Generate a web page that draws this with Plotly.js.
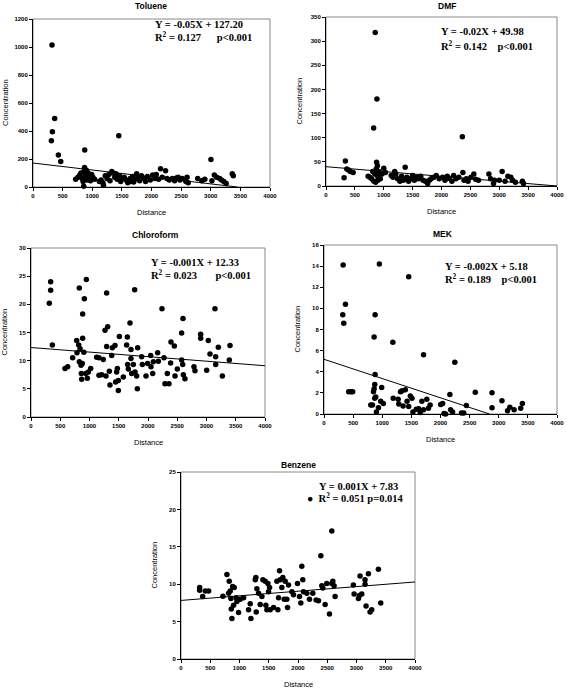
<!DOCTYPE html>
<html><head><meta charset="utf-8">
<script src="https://cdn.plot.ly/plotly-3.0.1.min.js"></script>
<style>html,body{margin:0;padding:0;background:#fff}#chart{width:567px;height:688px}</style>
</head><body><div id="chart"></div>
<script>
// ---------- DATA ----------
const panelNames = ["Toluene", "DMF", "Chloroform", "MEK", "Benzene"];
const xTickVals = [0, 500, 1000, 1500, 2000, 2500, 3000, 3500, 4000];

const tolueneX = [321,366,327,310,428,468,720,760,790,810,830,845,856,860,870,873,880,890,900,910,920,930,950,970,990,1010,1040,1120,1150,1180,1189,1220,1250,1280,1300,1330,1350,1380,1400,1420,1448,1460,1480,1500,1540,1570,1600,1640,1660,1680,1700,1720,1750,1770,1800,1830,1870,1900,1930,1980,2020,2060,2080,2120,2152,2180,2237,2260,2300,2350,2390,2420,2450,2480,2520,2580,2600,2620,2780,2850,2900,3003,3020,3060,3100,3150,3180,3220,3260,3363,3380];
const tolueneY = [1015,490,395,330,228,182,55,70,85,100,60,40,5,110,140,265,90,75,120,50,80,100,65,45,90,70,55,40,50,30,12,80,60,90,45,110,100,70,95,55,366,80,40,60,70,50,30,60,40,75,35,55,95,70,45,80,60,40,75,50,85,60,90,55,130,70,116,60,50,60,45,65,70,50,60,40,70,30,60,45,55,197,45,85,70,60,50,40,25,95,80];
const tolueneFitX = [0, 3450];
const tolueneFitY = [171, 0];

const dmfX = [313,336,360,390,420,470,730,760,790,810,825,830,845,853,860,870,876,882,890,895,900,920,940,970,1000,1030,1130,1160,1190,1210,1240,1280,1310,1340,1371,1400,1430,1460,1500,1530,1560,1600,1640,1680,1720,1760,1790,1820,1870,1910,1960,2020,2060,2100,2130,2180,2210,2250,2300,2361,2370,2390,2430,2460,2510,2560,2590,2640,2820,2850,2900,2919,3000,3050,3100,3150,3200,3230,3280,3400,3420];
const dmfY = [17,52,35,33,30,28,20,18,15,30,120,10,25,318,8,35,49,180,42,20,12,30,15,25,37,28,22,18,30,25,15,10,20,12,39,18,10,15,22,12,18,15,20,12,10,5,12,15,18,22,15,18,12,20,16,10,22,15,18,102,28,12,15,10,18,25,14,12,25,15,5,12,12,30,10,20,18,12,8,10,5];
const dmfFitX = [0, 4000];
const dmfFitY = [40, 0];

const chloroformX = [313,336,336,365,581,627,712,781,786,826,815,838,826,855,860,866,883,883,912,946,877,903,937,963,980,1020,1122,1162,1162,1208,1236,1282,1265,1311,1293,1293,1339,1350,1379,1390,1436,1447,1464,1476,1493,1510,1493,1578,1635,1647,1652,1664,1692,1709,1709,1721,1749,1772,1778,1806,1823,1818,1892,1903,1966,1994,2046,2051,2080,2091,2165,2177,2239,2273,2290,2330,2359,2387,2393,2450,2462,2501,2575,2575,2593,2598,2604,2632,2786,2803,2900,2900,3003,3031,3060,3145,3157,3157,3202,3271,3402,3390];
const chloroformY = [20.2,22.5,24.0,12.8,8.6,8.9,10.5,13.6,11.4,22.9,12.8,12.1,9.8,9.2,7.7,6.7,14.0,18.3,21.0,24.4,9.5,11.5,7.7,6.9,8.0,8.6,10.6,10.5,7.4,7.5,10.2,7.3,15.4,16.0,22.0,12.5,8.1,5.7,10.9,12.3,12.7,6.2,8.0,8.6,4.7,14.3,6.5,7.1,12.8,14.2,9.3,8.5,16.7,12.0,10.4,7.7,9.3,22.6,8.0,7.3,12.3,5.0,10.7,9.3,7.3,9.5,10.9,8.9,7.7,9.8,11.4,9.9,19.2,10.5,5.9,7.7,5.9,9.6,13.3,12.6,7.3,8.5,14.9,10.1,9.3,17.5,7.5,6.8,8.9,8.2,14.7,14.0,8.3,13.6,11.2,19.2,10.7,9.3,12.4,7.3,12.7,10.1];
const chloroformFitX = [0, 4000];
const chloroformFitY = [12.33, 9.1];

const mekX = [328,950,1454,322,339,368,877,860,1182,1709,2246,877,424,464,492,803,832,849,871,860,871,888,900,934,973,990,1018,1188,1273,1284,1313,1341,1358,1397,1426,1454,1482,1510,1527,1584,1624,1652,1680,1709,1765,1793,1822,2003,2037,2060,2088,2161,2173,2207,2360,2399,2444,2597,2885,2885,3055,3151,3191,3264,3377,3406];
const mekY = [14.1,14.2,13.0,9.4,8.6,10.4,9.4,7.3,6.8,5.6,4.9,3.75,2.1,2.1,2.1,0.85,0.85,2.1,2.8,2.4,1.5,1.6,0.2,0.6,1.2,2.5,1.0,1.5,1.4,0.95,2.1,2.2,0.75,2.3,1.2,0.7,1.7,1.5,0.2,0.45,0.5,0.15,1.2,0.4,1.4,0.55,0.85,0.9,1.0,0.05,0.0,1.85,0.4,0.2,0.1,0.1,0.8,2.05,2.0,0.6,1.25,0.3,0.65,0.4,0.55,1.0];
const mekFitX = [0, 2840];
const mekFitY = [5.18, 0];

const benzeneX = [319,319,370,415,472,717,785,825,814,842,853,859,870,882,899,910,944,956,984,1013,1070,1155,1183,1195,1269,1280,1286,1297,1326,1354,1383,1400,1440,1451,1468,1485,1497,1514,1525,1582,1639,1656,1667,1684,1696,1724,1741,1764,1781,1809,1821,1838,1895,1923,1991,2026,2048,2065,2082,2094,2151,2196,2253,2310,2350,2390,2407,2424,2464,2492,2538,2578,2578,2595,2617,2634,2947,2959,3050,3033,3061,3090,3146,3146,3163,3203,3232,3260,3374,3414];
const benzeneY = [9.55,9.2,8.35,9.1,9.1,8.4,11.3,10.4,8.8,9.1,8.1,6.7,5.4,9.7,7.2,9.55,8.2,7.7,6.2,8.0,8.2,6.6,7.4,5.4,10.6,10.9,6.3,9.4,8.8,7.3,8.35,10.6,10.4,7.2,6.6,10.1,9.0,9.55,6.6,6.9,10.4,6.6,8.2,11.8,10.6,9.55,10.9,8.0,10.4,8.0,6.9,9.9,9.0,8.6,10.1,8.35,7.5,12.4,10.6,9.0,8.8,8.0,8.8,7.9,7.8,13.8,9.8,9.5,7.3,10.1,6.0,17.1,10.1,10.4,9.8,8.35,9.9,8.7,8.5,8.1,11.1,8.7,10.6,10.0,7.1,11.4,6.3,6.6,12.0,7.5];
const benzeneFitX = [0, 4000];
const benzeneFitY = [7.83, 10.3];

const eqLines = ["Y = -0.05X + 127.20", "Y = -0.02X + 49.98", "Y = -0.001X + 12.33", "Y = -0.002X + 5.18", "Y = 0.001X + 7.83"];
const r2Lines = ["R<sup>2</sup> = 0.127      p<0.001", "R<sup>2</sup> = 0.142    p<0.001", "R<sup>2</sup> = 0.023       p<0.001", "R<sup>2</sup> = 0.189    p<0.001", "●  R<sup>2</sup> = 0.051 p=0.014"];
const yRanges = [[0,1200],[0,350],[0,30],[0,16],[0,25]];
const yDtick = [200, 50, 5, 2, 5];

// ---------- LAYOUT ----------
const W = 567, H = 688;
// plot boxes in pixels: [left, right, top, bottom]
const boxes = [[33,270,19,187],[326,557,17,186],[31,265,248,417],[324,557,245,414],[181,415,472,659]];
const titlePos = [[151,6],[447,6],[155,235],[443,234],[298,465]];
const eqPos = [[153,25],[439,32],[149,262],[443,266],[317,486]];
const r2Pos = [[153,37],[439,45],[149,274],[443,278],[305,498]];

const xs = [tolueneX, dmfX, chloroformX, mekX, benzeneX];
const ys = [tolueneY, dmfY, chloroformY, mekY, benzeneY];
const fxs = [tolueneFitX, dmfFitX, chloroformFitX, mekFitX, benzeneFitX];
const fys = [tolueneFitY, dmfFitY, chloroformFitY, mekFitY, benzeneFitY];

const traces = [];
const layout = {
  width: W, height: H, margin: {l:0,r:0,t:0,b:0},
  paper_bgcolor: "#fff", plot_bgcolor: "#fff", showlegend: false,
  annotations: [], shapes: []
};
const sans = "Liberation Sans, Arial, sans-serif";
const serif = "Liberation Serif, Times New Roman, serif";

for (let i = 0; i < 5; i++) {
  const n = i === 0 ? "" : String(i + 1);
  const [l, r, t, b] = boxes[i];
  traces.push({x: xs[i], y: ys[i], xaxis: "x"+n, yaxis: "y"+n, type: "scatter", mode: "markers",
    marker: {color: "#000", size: 5.5}, hoverinfo: "skip", cliponaxis: false});
  traces.push({x: fxs[i], y: fys[i], xaxis: "x"+n, yaxis: "y"+n, type: "scatter", mode: "lines",
    line: {color: "#000", width: 1}, hoverinfo: "skip"});
  layout["xaxis"+n] = {
    domain: [l/W, r/W], anchor: "y"+n, range: [0, 4000], tickvals: xTickVals,
    showgrid: false, zeroline: false, showline: true, linecolor: "#000", linewidth: 1,
    ticks: "outside", ticklen: 3, tickcolor: "#000", ticklabeloverflow: "allow",
    tickfont: {family: sans, size: 6, color: "#000", weight: "bold"}, fixedrange: true
  };
  layout["yaxis"+n] = {
    domain: [1 - b/H, 1 - t/H], anchor: "x"+n, range: yRanges[i], dtick: yDtick[i], tick0: 0,
    showgrid: false, zeroline: false, showline: true, linecolor: "#000", linewidth: 1,
    ticks: "outside", ticklen: 3, tickcolor: "#000", ticklabeloverflow: "allow",
    tickfont: {family: sans, size: 6, color: "#000", weight: "bold"}, fixedrange: true
  };
  layout.shapes.push({type: "rect", xref: "x"+n+" domain", yref: "y"+n+" domain", x0: 0, x1: 1, y0: 0, y1: 1,
    line: {color: "#888", width: 1}, layer: "below"});
  // title
  layout.annotations.push({text: panelNames[i], xref: "paper", yref: "paper", x: titlePos[i][0]/W, y: 1 - titlePos[i][1]/H,
    showarrow: false, xanchor: "center", yanchor: "middle", font: {family: sans, size: 8.5, color: "#000", weight: "bold"}});
  // axis titles
  layout.annotations.push({text: "Distance", xref: "paper", yref: "paper", x: (l+r)/2/W, y: 1 - (b+25)/H,
    showarrow: false, xanchor: "center", yanchor: "middle", font: {family: sans, size: 7.5, color: "#000"}});
  layout.annotations.push({text: "Concentration", xref: "paper", yref: "paper", x: (l-27)/W, y: 1 - (t+b)/2/H,
    showarrow: false, xanchor: "center", yanchor: "middle", textangle: -90, font: {family: sans, size: 7.5, color: "#000"}});
  // equations
  layout.annotations.push({text: eqLines[i], xref: "paper", yref: "paper", x: eqPos[i][0]/W, y: 1 - eqPos[i][1]/H,
    showarrow: false, xanchor: "left", yanchor: "middle", font: {family: serif, size: 10.5, color: "#000", weight: "bold"}});
  layout.annotations.push({text: r2Lines[i], xref: "paper", yref: "paper", x: r2Pos[i][0]/W, y: 1 - r2Pos[i][1]/H,
    showarrow: false, xanchor: "left", yanchor: "middle", font: {family: serif, size: 10.5, color: "#000", weight: "bold"}});
}

Plotly.newPlot("chart", traces, layout, {staticPlot: true, displayModeBar: false});
</script>
</body></html>
